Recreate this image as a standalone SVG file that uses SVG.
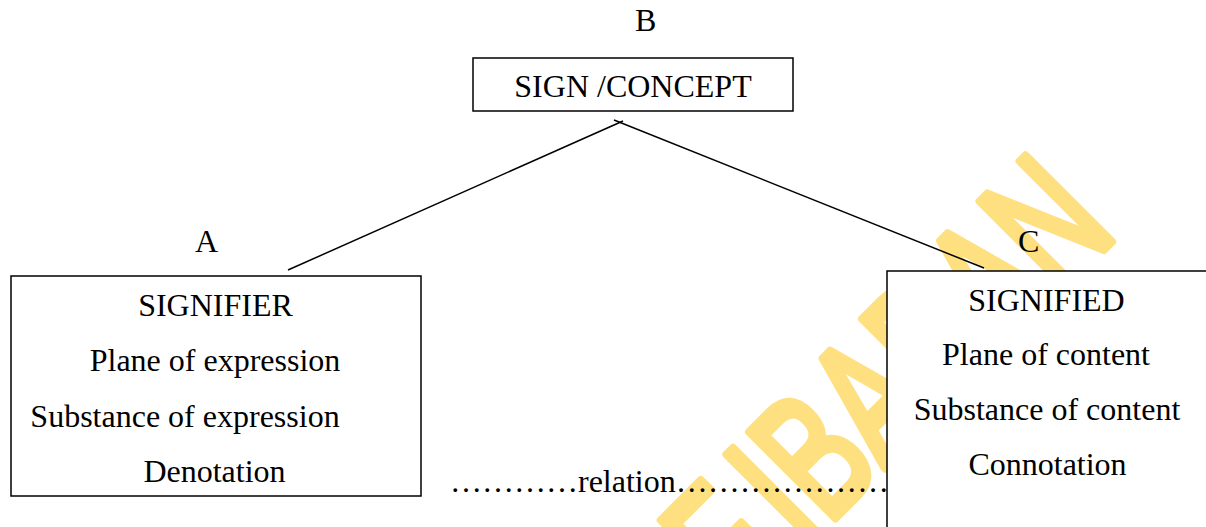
<svg xmlns="http://www.w3.org/2000/svg" width="1206" height="527" viewBox="0 0 1206 527">
  <style>
    .lbl { font-family: "Liberation Serif", "Times New Roman", serif; font-size: 32px; fill: #000; }
    .box { fill: #fff; stroke: #000; stroke-width: 1.5; }
    .conn { stroke: #000; stroke-width: 1.5; fill: none; }
    .wm { font-family: "Liberation Sans", Arial, sans-serif; font-size: 176px; fill: #FFE080; stroke: #FFE080; stroke-width: 9; stroke-linejoin: round; }
  </style>
  <rect width="1206" height="527" fill="#fff"/>
  <g id="watermark" transform="translate(804,549) rotate(-45) scale(0.68,1)">
    <text class="wm" x="-27" y="0" text-anchor="end">OF</text>
    <text class="wm" x="0" y="0">IBADAN</text>
  </g>
  <g id="connectors">
    <line class="conn" x1="288" y1="270" x2="623" y2="121"/>
    <line class="conn" x1="614" y1="120" x2="984" y2="268"/>
  </g>
  <g id="label-B"><text class="lbl" x="635" y="31">B</text></g>
  <g id="label-A"><text class="lbl" x="195" y="252">A</text></g>
  <g id="label-C"><text class="lbl" x="1018" y="252">C</text></g>
  <g id="node-sign">
    <rect class="box" x="473" y="58" width="320" height="53"/>
    <text class="lbl" x="633" y="97" text-anchor="middle">SIGN /CONCEPT</text>
  </g>
  <g id="node-signifier">
    <rect class="box" x="11" y="276" width="410" height="220"/>
    <text class="lbl" x="215.5" y="316" text-anchor="middle">SIGNIFIER</text>
    <text class="lbl" x="215" y="371" text-anchor="middle">Plane of expression</text>
    <text class="lbl" x="185" y="426.5" text-anchor="middle">Substance of expression</text>
    <text class="lbl" x="214.5" y="481.5" text-anchor="middle">Denotation</text>
  </g>
  <g id="relation">
    <text class="lbl" x="450" y="492">…………relation…………………</text>
  </g>
  <g id="node-signified">
    <rect class="box" x="887" y="271" width="400" height="300"/>
    <text class="lbl" x="1046.5" y="311" text-anchor="middle">SIGNIFIED</text>
    <text class="lbl" x="1046" y="365" text-anchor="middle">Plane of content</text>
    <text class="lbl" x="1047" y="420" text-anchor="middle">Substance of content</text>
    <text class="lbl" x="1047.5" y="475" text-anchor="middle">Connotation</text>
  </g>
</svg>
